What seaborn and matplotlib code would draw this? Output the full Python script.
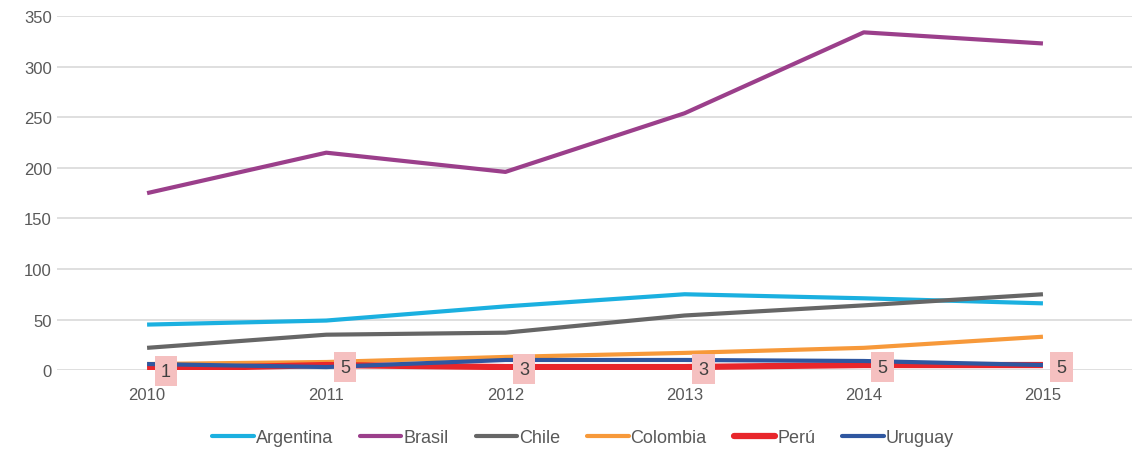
import pandas as pd
import matplotlib.pyplot as plt
import seaborn as sns

# datos
years = [2010, 2011, 2012, 2013, 2014, 2015]
argentina = [45, 49, 63, 75, 71, 66]
brasil = [175, 215, 196, 254, 334, 323]
chile = [22, 35, 37, 54, 64, 75]
colombia = [6, 8, 13, 17, 22, 33]
peru = [1, 5, 3, 3, 5, 5]
uruguay = [6, 3, 10, 10, 9, 5]

countries = ["Argentina", "Brasil", "Chile", "Colombia", "Perú", "Uruguay"]
series = [argentina, brasil, chile, colombia, peru, uruguay]
colors = ["#1bb0e0", "#9b3f8b", "#666666", "#f7993a", "#e8262b", "#2f57a0"]
widths = [3, 3, 3, 3, 4.5, 3]

rows = []
for country, vals in zip(countries, series):
    for y, v in zip(years, vals):
        rows.append({"Año": y, "Valor": v, "País": country})
df = pd.DataFrame(rows)

sns.set_style("white")
plt.rcParams['font.family'] = ['Liberation Sans', 'DejaVu Sans']

fig = plt.figure(figsize=(11.32, 4.52), dpi=100)
ax = fig.add_axes([0.05, 0.179, 0.95, 0.783])

# líneas de cuadrícula
for v in range(0, 351, 50):
    ax.axhline(v, color="#d9d9d9", lw=1.2, zorder=0)

sns.lineplot(data=df, x="Año", y="Valor", hue="País", hue_order=countries,
             palette=colors, ax=ax, legend=False)
for line, lw in zip(ax.get_lines()[-len(countries):], widths):
    line.set_linewidth(lw)
    line.set_solid_capstyle("butt")

# etiquetas de Perú
for y, v in zip(years, peru):
    ax.annotate(str(v), (y, v), xytext=(13.5, -1.5), textcoords="offset points",
                ha="center", va="center", fontsize=13, color="#404040",
                bbox=dict(boxstyle="square,pad=0.35", fc="#f5c0c0", ec="none"),
                zorder=10)

ax.set_xlim(2009.495, 2015.497)
ax.set_ylim(0, 350)
ax.set_xticks(years)
ax.set_yticks(range(0, 351, 50))
ax.tick_params(axis="both", length=0, labelsize=12, labelcolor="#595959")
ax.tick_params(axis="x", pad=12)
ax.set_xlabel("")
ax.set_ylabel("")
for s in ax.spines.values():
    s.set_visible(False)

handles = [plt.Line2D([], [], color=c, lw=lw) for c, lw in zip(colors, widths)]
leg = fig.legend(handles, countries, loc="center", bbox_to_anchor=(0.515, 0.03),
                 ncol=6, frameon=False, fontsize=13,
                 handlelength=2.3, handletextpad=0.1, columnspacing=1.5)
for t in leg.get_texts():
    t.set_color("#595959")

fig.savefig("out.png", dpi=100)
